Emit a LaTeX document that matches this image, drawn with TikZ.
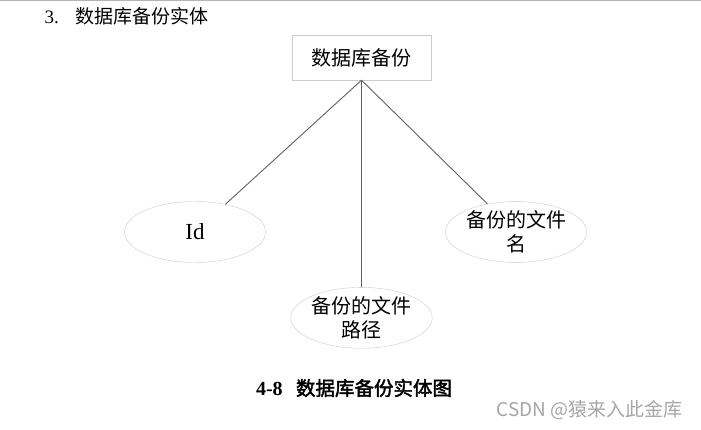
\documentclass[tikz,border=0pt]{standalone}
\usepackage{fontspec}
\setmainfont{Liberation Serif}
\newfontfamily\cjk{Noto Sans CJK SC}
\newfontfamily\cjkbf[FakeBold=2]{Noto Sans CJK SC}
\usetikzlibrary{positioning,shapes.geometric}
\definecolor{linkgray}{HTML}{606060}
\definecolor{bordergray}{HTML}{CCCCCC}
\definecolor{rulegray}{HTML}{B4B4B4}
\definecolor{markgray}{HTML}{A6A6A6}
\tikzstyle{entity}=[%
      rectangle, draw=bordergray, fill=white, inner sep=0pt,
      minimum width=139pt, minimum height=45pt, font=\fontsize{20}{24}\selectfont\cjk
]
\tikzstyle{attr}=[%
      ellipse, draw=bordergray, fill=white, inner sep=0pt, align=center,
      minimum width=141pt, minimum height=58pt, font=\fontsize{20}{24.5}\selectfont\cjk
]
\tikzstyle{link}=[%
      draw=linkgray, line width=0.9pt
]

\begin{document}
\begin{tikzpicture}[x=1pt, y=-1pt]
    \useasboundingbox[fill=white] (0,0) rectangle (701,430);
    \draw[rulegray, line width=2pt] (0,0.5) -- (701,0.5);

    \node[anchor=west, font=\fontsize{19}{22}\selectfont\cjk] (title) at (41,16)
        {{\rmfamily\makebox[31pt][l]{3.}}数据库备份实体};

    \node[entity]           (db)    at (361.5,57.5)  {数据库备份};
    \node[attr, minimum height=61pt, font=\fontsize{23}{26}\selectfont]
                            (id)    at (195,232)     {Id};
    \node[attr, minimum height=56pt] (path) [below=207pt of db] {备份的文件\\路径};
    \node[attr, minimum height=60pt] (fname) at (516,232) {备份的文件\\名};

    \path[link] (db.south) -- (id)
                (db.south) -- (path)
                (db.south) -- (fname);

    \node[font=\fontsize{19.5}{22}\selectfont\cjkbf] (caption) at (354,388)
        {{\rmfamily\bfseries\fontsize{20}{22}\selectfont\makebox[40pt][l]{4-8}}数据库备份实体图};
    \node[anchor=east, text=markgray, font=\fontsize{19}{22}\selectfont\cjk] (mark) at (686,410)
        {CSDN @猿来入此金库};
\end{tikzpicture}
\end{document}
